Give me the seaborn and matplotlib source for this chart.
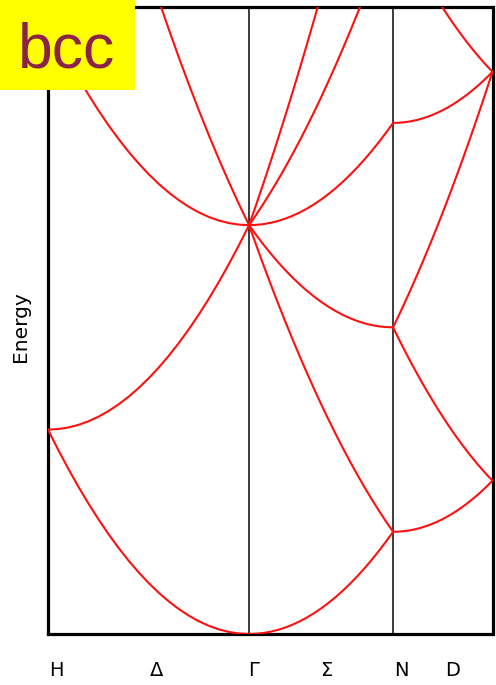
import numpy as np
import pandas as pd
import matplotlib
matplotlib.use("Agg")
import matplotlib.pyplot as plt
from matplotlib.patches import Rectangle
from matplotlib import transforms
import seaborn as sns

# Path H - Gamma - N - P, segment lengths along the horizontal axis
seg_lengths = [1.0, 0.7164, 0.4945]
point_labels = ["H", "\u0394", "\u0393", "\u03a3", "N", "D"]

# Fractional positions sampled along each segment
frac = [0.0, 0.05, 0.1, 0.15, 0.2, 0.25, 0.3, 0.35, 0.4, 0.45, 0.5,
        0.55, 0.6, 0.65, 0.7, 0.75, 0.8, 0.85, 0.9, 0.95, 1.0]

# Free-electron energies on H -> Gamma
hg_a = [1, 0.9025, 0.81, 0.7225, 0.64, 0.5625, 0.49, 0.4225, 0.36, 0.3025, 0.25,
        0.2025, 0.16, 0.1225, 0.09, 0.0625, 0.04, 0.0225, 0.01, 0.0025, 0]
hg_b = [1, 1.0025, 1.01, 1.0225, 1.04, 1.0625, 1.09, 1.1225, 1.16, 1.2025, 1.25,
        1.3025, 1.36, 1.4225, 1.49, 1.5625, 1.64, 1.7225, 1.81, 1.9025, 2]
hg_c = [3, 2.9025, 2.81, 2.7225, 2.64, 2.5625, 2.49, 2.4225, 2.36, 2.3025, 2.25,
        2.2025, 2.16, 2.1225, 2.09, 2.0625, 2.04, 2.0225, 2.01, 2.0025, 2]
hg_d = [5, 4.8025, 4.61, 4.4225, 4.24, 4.0625, 3.89, 3.7225, 3.56, 3.4025, 3.25,
        3.1025, 2.96, 2.8225, 2.69, 2.5625, 2.44, 2.3225, 2.21, 2.1025, 2]

# Gamma -> N
gn_e = [0, 0.0013, 0.005, 0.0113, 0.02, 0.0313, 0.045, 0.0613, 0.08, 0.1013, 0.125,
        0.1513, 0.18, 0.2113, 0.245, 0.2813, 0.32, 0.3613, 0.405, 0.4513, 0.5]
gn_f = [2, 1.9013, 1.805, 1.7113, 1.62, 1.5313, 1.445, 1.3613, 1.28, 1.2013, 1.125,
        1.0513, 0.98, 0.9113, 0.845, 0.7813, 0.72, 0.6613, 0.605, 0.5513, 0.5]
gn_g = [2, 1.9513, 1.905, 1.8613, 1.82, 1.7813, 1.745, 1.7113, 1.68, 1.6513, 1.625,
        1.6013, 1.58, 1.5613, 1.545, 1.5313, 1.52, 1.5113, 1.505, 1.5013, 1.5]
gn_h = [2, 2.0513, 2.105, 2.1613, 2.22, 2.2813, 2.345, 2.4113, 2.48, 2.5513, 2.625,
        2.7013, 2.78, 2.8613, 2.945, 3.0313, 3.12, 3.2113, 3.305, 3.4013, 3.5]
gn_i = [2, 2.0013, 2.005, 2.0113, 2.02, 2.0313, 2.045, 2.0613, 2.08, 2.1013, 2.125,
        2.1513, 2.18, 2.2113, 2.245, 2.2813, 2.32, 2.3613, 2.405, 2.4513, 2.5]
gn_j = [2, 2.1013, 2.205, 2.3113, 2.42, 2.5313, 2.645, 2.7613, 2.88, 3.0013, 3.125,
        3.2513, 3.38, 3.5113, 3.645, 3.7813, 3.92, 4.0613, 4.205, 4.3513, 4.5]

# N -> P
np_k = [0.5, 0.5006, 0.5025, 0.5056, 0.51, 0.5156, 0.5225, 0.5306, 0.54, 0.5506, 0.5625,
        0.5756, 0.59, 0.6056, 0.6225, 0.6406, 0.66, 0.6806, 0.7025, 0.7256, 0.75]
np_l = [1.5, 1.5506, 1.6025, 1.6556, 1.71, 1.7656, 1.8225, 1.8806, 1.94, 2.0006, 2.0625,
        2.1256, 2.19, 2.2556, 2.3225, 2.3906, 2.46, 2.5306, 2.6025, 2.6756, 2.75]
np_m = [1.5, 1.4506, 1.4025, 1.3556, 1.31, 1.2656, 1.2225, 1.1806, 1.14, 1.1006, 1.0625,
        1.0256, 0.99, 0.9556, 0.9225, 0.8906, 0.86, 0.8306, 0.8025, 0.7756, 0.75]
np_n = [2.5, 2.5006, 2.5025, 2.5056, 2.51, 2.5156, 2.5225, 2.5306, 2.54, 2.5506, 2.5625,
        2.5756, 2.59, 2.6056, 2.6225, 2.6406, 2.66, 2.6806, 2.7025, 2.7256, 2.75]
np_o = [3.5, 3.4506, 3.4025, 3.3556, 3.31, 3.2656, 3.2225, 3.1806, 3.14, 3.1006, 3.0625,
        3.0256, 2.99, 2.9556, 2.9225, 2.8906, 2.86, 2.8306, 2.8025, 2.7756, 2.75]

branches = {
    0: {"a": hg_a, "b": hg_b, "c": hg_c, "d": hg_d},
    1: {"e": gn_e, "f": gn_f, "g": gn_g, "h": gn_h, "i": gn_i, "j": gn_j},
    2: {"k": np_k, "l": np_l, "m": np_m, "n": np_n, "o": np_o},
}

starts = np.concatenate([[0.0], np.cumsum(seg_lengths)])

rows = []
for seg, bands in branches.items():
    for name, energies in bands.items():
        for f, e in zip(frac, energies):
            rows.append({"k": starts[seg] + f * seg_lengths[seg], "E": e, "band": name})
df = pd.DataFrame(rows)

sns.set_style("white")
plt.rcParams["font.family"] = ["DejaVu Sans"]

fig = plt.figure(figsize=(4.96, 6.85), dpi=100)
ax = fig.add_axes([48 / 496, 1 - 634 / 685, 444.5 / 496, 627 / 685])

sns.lineplot(data=df, x="k", y="E", units="band", estimator=None, sort=False,
             color="#ff1010", linewidth=1.5, ax=ax, zorder=3)

ax.set_xlim(starts[0], starts[-1])
ax.set_ylim(0, 3.067)

for xv in (starts[1], starts[2]):
    ax.axvline(xv, color="#1a1a1a", linewidth=1.2, zorder=2)

for sp in ax.spines.values():
    sp.set_visible(True)
    sp.set_color("black")
    sp.set_linewidth(2.3)

ax.set_xticks([])
ax.set_yticks([])
ax.set_xlabel("")
ax.set_ylabel("")

# Path labels under the axis
label_pos = [starts[0], (starts[0] + starts[1]) / 2, starts[1],
             (starts[1] + starts[2]) / 2, starts[2], (starts[2] + starts[3]) / 2]
label_shift = [8, 8, 5, 5, 8, 10]
for xv, lab, dx in zip(label_pos, point_labels, label_shift):
    tr = transforms.blended_transform_factory(ax.transData, fig.transFigure)
    tr = tr + transforms.ScaledTranslation(dx / 100, 0, fig.dpi_scale_trans)
    fig.text(xv, 1 - 670 / 685, lab, transform=tr, ha="center", va="center",
             fontsize=14, color="black")

fig.text(20.5 / 496, 1 - 327 / 685, "Energy", rotation=90, ha="center", va="center",
         fontsize=14.5, color="black")

# Lattice tag in the corner
fig.patches.append(Rectangle((0, 1 - 90 / 685), 135 / 496, 90 / 685,
                             transform=fig.transFigure, facecolor="#ffff00",
                             edgecolor="none", zorder=10))
fig.text(66.5 / 496, 1 - 68 / 685, "bcc", ha="center", va="baseline",
         fontsize=45, color="#8b2346", family="Liberation Sans", zorder=11)

fig.savefig("out.png", dpi=100)
